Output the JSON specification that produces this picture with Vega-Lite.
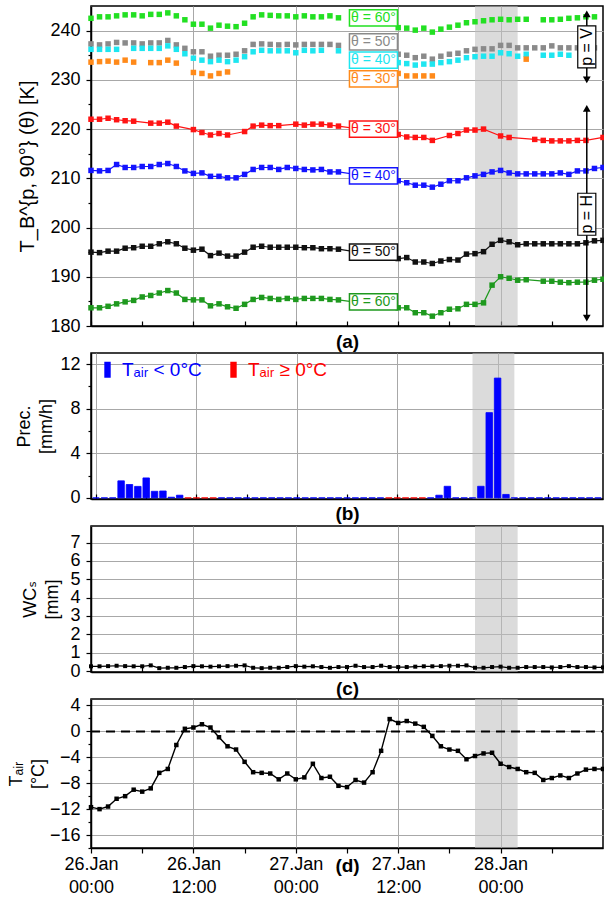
{
  "$schema": "https://vega.github.io/schema/vega-lite/v6.json",
  "background": "white",
  "padding": {"left": 6, "top": 5, "right": 0, "bottom": 0},
  "spacing": 27,
  "bounds": "flush",
  "resolve": {"scale": {"color": "independent", "stroke": "independent", "shape": "independent"}, "legend": {"color": "independent", "stroke": "independent"}},
  "config": {
    "font": "Liberation Sans, Arial, DejaVu Sans, sans-serif",
    "view": {"stroke": "black", "strokeWidth": 1.5},
    "axis": {"labelFontSize": 18, "labelColor": "black", "titleFontSize": 18, "titleColor": "black", "titleFontWeight": "normal", "domainColor": "black", "domainWidth": 1.5, "tickColor": "black", "tickWidth": 1.2, "gridColor": "#a8a8a8", "gridWidth": 1, "labelFlush": false, "labelOverlap": false, "labelPadding": 5, "titleLineHeight": 22}
  },
  "datasets": {
    "tb": [
      {"s":"H30","h":0,"v":222.0},{"s":"H30","h":1,"v":222.0},{"s":"H30","h":2,"v":222.2},{"s":"H30","h":3,"v":221.9},{"s":"H30","h":4,"v":221.7},{"s":"H30","h":5,"v":221.6},{"s":"H30","h":7,"v":221.2},{"s":"H30","h":8,"v":221.2},{"s":"H30","h":9,"v":221.4},{"s":"H30","h":10,"v":220.6},{"s":"H30","h":12,"v":219.9},{"s":"H30","h":13,"v":219.3},{"s":"H30","h":14,"v":218.8},{"s":"H30","h":15,"v":219.1},{"s":"H30","h":16,"v":218.8},{"s":"H30","h":18,"v":219.5},{"s":"H30","h":19,"v":220.6},{"s":"H30","h":20,"v":220.8},{"s":"H30","h":21,"v":220.7},{"s":"H30","h":22,"v":220.7},{"s":"H30","h":24,"v":221.0},{"s":"H30","h":25,"v":220.8},{"s":"H30","h":26,"v":221.0},{"s":"H30","h":27,"v":221.0},{"s":"H30","h":28,"v":220.8},{"s":"H30","h":29,"v":220.6},{"s":"H30","h":36,"v":218.9},{"s":"H30","h":37,"v":218.4},{"s":"H30","h":38,"v":218.3},{"s":"H30","h":39,"v":218.3},{"s":"H30","h":40,"v":217.7},{"s":"H30","h":42,"v":218.7},{"s":"H30","h":43,"v":219.1},{"s":"H30","h":44,"v":219.8},{"s":"H30","h":45,"v":219.8},{"s":"H30","h":46,"v":220.0},{"s":"H30","h":48,"v":218.6},{"s":"H30","h":49,"v":218.3},{"s":"H30","h":52,"v":217.9},{"s":"H30","h":53,"v":217.7},{"s":"H30","h":54,"v":217.6},{"s":"H30","h":55,"v":217.6},{"s":"H30","h":56,"v":217.6},{"s":"H30","h":57,"v":217.7},{"s":"H30","h":58,"v":217.7},{"s":"H30","h":60,"v":218.3},
      {"s":"H40","h":0,"v":211.6},{"s":"H40","h":1,"v":211.5},{"s":"H40","h":2,"v":211.6},{"s":"H40","h":3,"v":212.8},{"s":"H40","h":4,"v":212.2},{"s":"H40","h":5,"v":212.2},{"s":"H40","h":6,"v":212.4},{"s":"H40","h":7,"v":212.4},{"s":"H40","h":8,"v":212.8},{"s":"H40","h":9,"v":213.0},{"s":"H40","h":10,"v":212.4},{"s":"H40","h":11,"v":211.5},{"s":"H40","h":12,"v":211.0},{"s":"H40","h":13,"v":211.1},{"s":"H40","h":14,"v":210.4},{"s":"H40","h":15,"v":210.4},{"s":"H40","h":16,"v":210.1},{"s":"H40","h":17,"v":210.1},{"s":"H40","h":18,"v":210.8},{"s":"H40","h":19,"v":211.8},{"s":"H40","h":20,"v":212.2},{"s":"H40","h":21,"v":212.2},{"s":"H40","h":22,"v":211.8},{"s":"H40","h":23,"v":212.2},{"s":"H40","h":24,"v":212.0},{"s":"H40","h":25,"v":211.8},{"s":"H40","h":26,"v":211.7},{"s":"H40","h":27,"v":211.8},{"s":"H40","h":28,"v":211.3},{"s":"H40","h":29,"v":211.3},{"s":"H40","h":36,"v":209.5},{"s":"H40","h":37,"v":209.1},{"s":"H40","h":38,"v":208.6},{"s":"H40","h":39,"v":208.6},{"s":"H40","h":40,"v":208.2},{"s":"H40","h":41,"v":208.8},{"s":"H40","h":42,"v":209.5},{"s":"H40","h":43,"v":209.5},{"s":"H40","h":44,"v":210.1},{"s":"H40","h":45,"v":210.5},{"s":"H40","h":46,"v":210.8},{"s":"H40","h":47,"v":211.3},{"s":"H40","h":48,"v":211.6},{"s":"H40","h":49,"v":211.1},{"s":"H40","h":50,"v":210.9},{"s":"H40","h":51,"v":210.9},{"s":"H40","h":52,"v":210.9},{"s":"H40","h":53,"v":210.9},{"s":"H40","h":54,"v":210.9},{"s":"H40","h":55,"v":211.1},{"s":"H40","h":56,"v":210.8},{"s":"H40","h":57,"v":211.5},{"s":"H40","h":58,"v":211.5},{"s":"H40","h":59,"v":212.0},{"s":"H40","h":60,"v":212.2},
      {"s":"H50","h":0,"v":195.0},{"s":"H50","h":1,"v":194.9},{"s":"H50","h":2,"v":195.2},{"s":"H50","h":3,"v":195.2},{"s":"H50","h":4,"v":195.8},{"s":"H50","h":5,"v":195.9},{"s":"H50","h":6,"v":196.2},{"s":"H50","h":7,"v":196.2},{"s":"H50","h":8,"v":196.7},{"s":"H50","h":9,"v":197.1},{"s":"H50","h":10,"v":196.7},{"s":"H50","h":11,"v":195.8},{"s":"H50","h":12,"v":195.4},{"s":"H50","h":13,"v":195.6},{"s":"H50","h":14,"v":194.3},{"s":"H50","h":15,"v":194.8},{"s":"H50","h":16,"v":194.2},{"s":"H50","h":17,"v":194.2},{"s":"H50","h":18,"v":195.0},{"s":"H50","h":19,"v":196.0},{"s":"H50","h":20,"v":196.2},{"s":"H50","h":21,"v":196.0},{"s":"H50","h":22,"v":196.0},{"s":"H50","h":23,"v":196.0},{"s":"H50","h":24,"v":196.0},{"s":"H50","h":25,"v":195.9},{"s":"H50","h":26,"v":195.9},{"s":"H50","h":27,"v":195.7},{"s":"H50","h":28,"v":195.7},{"s":"H50","h":29,"v":195.6},{"s":"H50","h":36,"v":193.7},{"s":"H50","h":37,"v":193.9},{"s":"H50","h":38,"v":193.0},{"s":"H50","h":39,"v":193.0},{"s":"H50","h":40,"v":192.7},{"s":"H50","h":41,"v":193.2},{"s":"H50","h":42,"v":193.5},{"s":"H50","h":43,"v":193.4},{"s":"H50","h":44,"v":194.6},{"s":"H50","h":45,"v":194.7},{"s":"H50","h":46,"v":195.1},{"s":"H50","h":47,"v":196.6},{"s":"H50","h":48,"v":197.4},{"s":"H50","h":49,"v":197.1},{"s":"H50","h":50,"v":196.5},{"s":"H50","h":51,"v":196.7},{"s":"H50","h":52,"v":196.7},{"s":"H50","h":53,"v":196.7},{"s":"H50","h":54,"v":196.7},{"s":"H50","h":55,"v":196.7},{"s":"H50","h":56,"v":196.7},{"s":"H50","h":57,"v":196.7},{"s":"H50","h":58,"v":196.9},{"s":"H50","h":59,"v":197.3},{"s":"H50","h":60,"v":197.4},
      {"s":"H60","h":0,"v":183.7},{"s":"H60","h":1,"v":183.7},{"s":"H60","h":2,"v":184.0},{"s":"H60","h":3,"v":184.5},{"s":"H60","h":4,"v":184.9},{"s":"H60","h":5,"v":185.2},{"s":"H60","h":6,"v":185.9},{"s":"H60","h":7,"v":186.2},{"s":"H60","h":8,"v":186.7},{"s":"H60","h":9,"v":187.2},{"s":"H60","h":10,"v":186.7},{"s":"H60","h":11,"v":185.4},{"s":"H60","h":12,"v":185.3},{"s":"H60","h":13,"v":185.3},{"s":"H60","h":14,"v":184.1},{"s":"H60","h":15,"v":184.5},{"s":"H60","h":16,"v":183.9},{"s":"H60","h":17,"v":183.6},{"s":"H60","h":18,"v":184.4},{"s":"H60","h":19,"v":185.4},{"s":"H60","h":20,"v":185.8},{"s":"H60","h":21,"v":185.6},{"s":"H60","h":22,"v":185.4},{"s":"H60","h":23,"v":185.6},{"s":"H60","h":24,"v":185.4},{"s":"H60","h":25,"v":185.6},{"s":"H60","h":26,"v":185.6},{"s":"H60","h":27,"v":185.6},{"s":"H60","h":28,"v":185.4},{"s":"H60","h":29,"v":185.3},{"s":"H60","h":36,"v":183.7},{"s":"H60","h":37,"v":183.7},{"s":"H60","h":38,"v":182.7},{"s":"H60","h":39,"v":182.7},{"s":"H60","h":40,"v":182.0},{"s":"H60","h":41,"v":182.7},{"s":"H60","h":42,"v":183.4},{"s":"H60","h":43,"v":183.5},{"s":"H60","h":44,"v":184.4},{"s":"H60","h":45,"v":184.4},{"s":"H60","h":46,"v":184.7},{"s":"H60","h":47,"v":188.3},{"s":"H60","h":48,"v":190.0},{"s":"H60","h":49,"v":189.7},{"s":"H60","h":50,"v":189.3},{"s":"H60","h":51,"v":189.4},{"s":"H60","h":53,"v":189.1},{"s":"H60","h":54,"v":189.1},{"s":"H60","h":55,"v":188.9},{"s":"H60","h":56,"v":188.8},{"s":"H60","h":57,"v":188.9},{"s":"H60","h":58,"v":188.9},{"s":"H60","h":59,"v":189.3},{"s":"H60","h":60,"v":189.5},
      {"s":"V60","h":0,"v":242.5},{"s":"V60","h":1,"v":242.8},{"s":"V60","h":2,"v":242.8},{"s":"V60","h":3,"v":243.0},{"s":"V60","h":4,"v":243.2},{"s":"V60","h":5,"v":243.2},{"s":"V60","h":6,"v":243.0},{"s":"V60","h":7,"v":243.3},{"s":"V60","h":8,"v":243.3},{"s":"V60","h":9,"v":243.6},{"s":"V60","h":10,"v":243.0},{"s":"V60","h":11,"v":242.2},{"s":"V60","h":12,"v":241.3},{"s":"V60","h":13,"v":241.3},{"s":"V60","h":14,"v":240.5},{"s":"V60","h":15,"v":241.1},{"s":"V60","h":16,"v":240.9},{"s":"V60","h":17,"v":240.8},{"s":"V60","h":18,"v":241.5},{"s":"V60","h":19,"v":242.8},{"s":"V60","h":20,"v":243.2},{"s":"V60","h":21,"v":243.1},{"s":"V60","h":22,"v":243.0},{"s":"V60","h":23,"v":243.0},{"s":"V60","h":24,"v":242.8},{"s":"V60","h":25,"v":243.0},{"s":"V60","h":26,"v":242.8},{"s":"V60","h":27,"v":242.8},{"s":"V60","h":28,"v":243.0},{"s":"V60","h":29,"v":242.6},{"s":"V60","h":36,"v":240.6},{"s":"V60","h":37,"v":240.5},{"s":"V60","h":38,"v":240.1},{"s":"V60","h":39,"v":240.5},{"s":"V60","h":40,"v":239.7},{"s":"V60","h":41,"v":240.3},{"s":"V60","h":42,"v":240.7},{"s":"V60","h":43,"v":241.1},{"s":"V60","h":44,"v":241.6},{"s":"V60","h":45,"v":241.8},{"s":"V60","h":46,"v":242.0},{"s":"V60","h":47,"v":242.2},{"s":"V60","h":48,"v":242.3},{"s":"V60","h":49,"v":242.2},{"s":"V60","h":50,"v":242.3},{"s":"V60","h":51,"v":242.3},{"s":"V60","h":53,"v":242.2},{"s":"V60","h":54,"v":242.2},{"s":"V60","h":55,"v":242.3},{"s":"V60","h":56,"v":242.5},{"s":"V60","h":57,"v":242.6},{"s":"V60","h":58,"v":242.8},{"s":"V60","h":59,"v":242.8},
      {"s":"V50","h":0,"v":237.3},{"s":"V50","h":1,"v":237.1},{"s":"V50","h":2,"v":237.3},{"s":"V50","h":3,"v":237.6},{"s":"V50","h":4,"v":237.5},{"s":"V50","h":5,"v":237.5},{"s":"V50","h":6,"v":237.3},{"s":"V50","h":7,"v":237.5},{"s":"V50","h":8,"v":237.5},{"s":"V50","h":9,"v":238.0},{"s":"V50","h":10,"v":237.1},{"s":"V50","h":11,"v":236.4},{"s":"V50","h":12,"v":235.7},{"s":"V50","h":13,"v":235.7},{"s":"V50","h":14,"v":234.8},{"s":"V50","h":15,"v":235.0},{"s":"V50","h":16,"v":235.0},{"s":"V50","h":17,"v":235.2},{"s":"V50","h":18,"v":235.9},{"s":"V50","h":19,"v":237.2},{"s":"V50","h":20,"v":237.3},{"s":"V50","h":21,"v":237.2},{"s":"V50","h":22,"v":237.1},{"s":"V50","h":23,"v":237.2},{"s":"V50","h":24,"v":237.1},{"s":"V50","h":25,"v":237.2},{"s":"V50","h":26,"v":237.2},{"s":"V50","h":27,"v":237.2},{"s":"V50","h":28,"v":237.2},{"s":"V50","h":29,"v":237.0},{"s":"V50","h":36,"v":235.2},{"s":"V50","h":37,"v":235.0},{"s":"V50","h":38,"v":234.5},{"s":"V50","h":39,"v":234.8},{"s":"V50","h":40,"v":234.2},{"s":"V50","h":41,"v":234.8},{"s":"V50","h":42,"v":235.2},{"s":"V50","h":43,"v":235.4},{"s":"V50","h":44,"v":235.9},{"s":"V50","h":45,"v":236.2},{"s":"V50","h":46,"v":236.3},{"s":"V50","h":47,"v":236.3},{"s":"V50","h":48,"v":237.0},{"s":"V50","h":49,"v":237.0},{"s":"V50","h":50,"v":236.5},{"s":"V50","h":51,"v":236.5},{"s":"V50","h":52,"v":236.5},{"s":"V50","h":53,"v":236.5},{"s":"V50","h":54,"v":236.9},{"s":"V50","h":55,"v":236.5},{"s":"V50","h":56,"v":236.5},{"s":"V50","h":57,"v":236.5},{"s":"V50","h":58,"v":236.5},{"s":"V50","h":59,"v":236.5},
      {"s":"V40","h":0,"v":236.2},{"s":"V40","h":1,"v":236.2},{"s":"V40","h":2,"v":236.2},{"s":"V40","h":3,"v":236.2},{"s":"V40","h":5,"v":236.4},{"s":"V40","h":6,"v":236.4},{"s":"V40","h":7,"v":236.4},{"s":"V40","h":8,"v":236.4},{"s":"V40","h":9,"v":236.9},{"s":"V40","h":10,"v":236.2},{"s":"V40","h":11,"v":235.3},{"s":"V40","h":12,"v":234.4},{"s":"V40","h":13,"v":234.0},{"s":"V40","h":14,"v":233.7},{"s":"V40","h":15,"v":234.0},{"s":"V40","h":16,"v":233.7},{"s":"V40","h":17,"v":234.0},{"s":"V40","h":18,"v":234.7},{"s":"V40","h":19,"v":235.7},{"s":"V40","h":20,"v":236.0},{"s":"V40","h":21,"v":235.9},{"s":"V40","h":22,"v":235.9},{"s":"V40","h":23,"v":235.9},{"s":"V40","h":24,"v":235.5},{"s":"V40","h":25,"v":236.0},{"s":"V40","h":26,"v":235.9},{"s":"V40","h":27,"v":236.0},{"s":"V40","h":29,"v":235.9},{"s":"V40","h":36,"v":233.5},{"s":"V40","h":37,"v":233.3},{"s":"V40","h":38,"v":233.0},{"s":"V40","h":39,"v":233.2},{"s":"V40","h":40,"v":233.2},{"s":"V40","h":41,"v":233.5},{"s":"V40","h":42,"v":233.7},{"s":"V40","h":43,"v":234.0},{"s":"V40","h":44,"v":234.5},{"s":"V40","h":45,"v":234.7},{"s":"V40","h":46,"v":234.8},{"s":"V40","h":47,"v":234.8},{"s":"V40","h":48,"v":235.5},{"s":"V40","h":49,"v":235.3},{"s":"V40","h":50,"v":234.8},{"s":"V40","h":51,"v":235.2},{"s":"V40","h":53,"v":235.0},{"s":"V40","h":54,"v":235.0},{"s":"V40","h":55,"v":235.2},{"s":"V40","h":56,"v":235.0},
      {"s":"V30","h":0,"v":233.6},{"s":"V30","h":1,"v":233.7},{"s":"V30","h":2,"v":233.8},{"s":"V30","h":3,"v":233.6},{"s":"V30","h":4,"v":234.0},{"s":"V30","h":5,"v":233.6},{"s":"V30","h":7,"v":233.5},{"s":"V30","h":8,"v":233.5},{"s":"V30","h":9,"v":234.0},{"s":"V30","h":10,"v":233.4},{"s":"V30","h":12,"v":231.5},{"s":"V30","h":13,"v":231.3},{"s":"V30","h":14,"v":230.8},{"s":"V30","h":15,"v":231.3},{"s":"V30","h":16,"v":231.6},{"s":"V30","h":36,"v":231.3},{"s":"V30","h":37,"v":230.8},{"s":"V30","h":38,"v":230.8},{"s":"V30","h":39,"v":230.8},{"s":"V30","h":40,"v":230.8},{"s":"V30","h":51,"v":234.2}
    ],
    "labels": [
      {"s":"V60","h":33.1,"v":242.6,"t":"θ = 60°"},
      {"s":"V50","h":33.1,"v":237.7,"t":"θ = 50°"},
      {"s":"V40","h":33.1,"v":234.0,"t":"θ = 40°"},
      {"s":"V30","h":33.1,"v":230.2,"t":"θ = 30°"},
      {"s":"H30","h":33.1,"v":220.0,"t":"θ = 30°"},
      {"s":"H40","h":33.1,"v":210.5,"t":"θ = 40°"},
      {"s":"H50","h":33.1,"v":195.0,"t":"θ = 50°"},
      {"s":"H60","h":33.1,"v":184.9,"t":"θ = 60°"}
    ],
    "prec": [
      {"h":0,"v":0,"c":"Tₐᵢᵣ < 0°C"},{"h":1,"v":0,"c":"Tₐᵢᵣ < 0°C"},{"h":2,"v":0,"c":"Tₐᵢᵣ < 0°C"},{"h":3,"v":1.53,"c":"Tₐᵢᵣ < 0°C"},{"h":4,"v":1.2,"c":"Tₐᵢᵣ < 0°C"},{"h":5,"v":1.03,"c":"Tₐᵢᵣ < 0°C"},{"h":6,"v":1.79,"c":"Tₐᵢᵣ < 0°C"},{"h":7,"v":0.59,"c":"Tₐᵢᵣ < 0°C"},{"h":8,"v":0.62,"c":"Tₐᵢᵣ < 0°C"},{"h":9,"v":0.06,"c":"Tₐᵢᵣ < 0°C"},{"h":10,"v":0.24,"c":"Tₐᵢᵣ < 0°C"},
      {"h":11,"v":0,"c":"Tₐᵢᵣ ≥ 0°C"},{"h":12,"v":0,"c":"Tₐᵢᵣ ≥ 0°C"},{"h":13,"v":0,"c":"Tₐᵢᵣ ≥ 0°C"},{"h":14,"v":0,"c":"Tₐᵢᵣ ≥ 0°C"},
      {"h":15,"v":0,"c":"Tₐᵢᵣ < 0°C"},{"h":16,"v":0,"c":"Tₐᵢᵣ < 0°C"},{"h":17,"v":0,"c":"Tₐᵢᵣ < 0°C"},{"h":18,"v":0,"c":"Tₐᵢᵣ < 0°C"},{"h":19,"v":0,"c":"Tₐᵢᵣ < 0°C"},{"h":20,"v":0,"c":"Tₐᵢᵣ < 0°C"},{"h":21,"v":0,"c":"Tₐᵢᵣ < 0°C"},{"h":22,"v":0,"c":"Tₐᵢᵣ < 0°C"},{"h":23,"v":0,"c":"Tₐᵢᵣ < 0°C"},{"h":24,"v":0,"c":"Tₐᵢᵣ < 0°C"},{"h":25,"v":0,"c":"Tₐᵢᵣ < 0°C"},{"h":26,"v":0,"c":"Tₐᵢᵣ < 0°C"},{"h":27,"v":0,"c":"Tₐᵢᵣ < 0°C"},{"h":28,"v":0,"c":"Tₐᵢᵣ < 0°C"},{"h":29,"v":0,"c":"Tₐᵢᵣ < 0°C"},{"h":30,"v":0,"c":"Tₐᵢᵣ < 0°C"},{"h":31,"v":0,"c":"Tₐᵢᵣ < 0°C"},{"h":32,"v":0,"c":"Tₐᵢᵣ < 0°C"},{"h":33,"v":0,"c":"Tₐᵢᵣ < 0°C"},{"h":34,"v":0,"c":"Tₐᵢᵣ < 0°C"},
      {"h":35,"v":0,"c":"Tₐᵢᵣ ≥ 0°C"},{"h":36,"v":0,"c":"Tₐᵢᵣ ≥ 0°C"},{"h":37,"v":0,"c":"Tₐᵢᵣ ≥ 0°C"},{"h":38,"v":0,"c":"Tₐᵢᵣ ≥ 0°C"},{"h":39,"v":0,"c":"Tₐᵢᵣ ≥ 0°C"},
      {"h":40,"v":0,"c":"Tₐᵢᵣ < 0°C"},{"h":41,"v":0.24,"c":"Tₐᵢᵣ < 0°C"},{"h":42,"v":1.04,"c":"Tₐᵢᵣ < 0°C"},{"h":43,"v":0,"c":"Tₐᵢᵣ < 0°C"},{"h":44,"v":0,"c":"Tₐᵢᵣ < 0°C"},{"h":45,"v":0,"c":"Tₐᵢᵣ < 0°C"},{"h":46,"v":1.04,"c":"Tₐᵢᵣ < 0°C"},{"h":47,"v":7.65,"c":"Tₐᵢᵣ < 0°C"},{"h":48,"v":10.75,"c":"Tₐᵢᵣ < 0°C"},{"h":49,"v":0.31,"c":"Tₐᵢᵣ < 0°C"},{"h":50,"v":0,"c":"Tₐᵢᵣ < 0°C"},{"h":51,"v":0,"c":"Tₐᵢᵣ < 0°C"},{"h":52,"v":0,"c":"Tₐᵢᵣ < 0°C"},{"h":53,"v":0,"c":"Tₐᵢᵣ < 0°C"},{"h":54,"v":0,"c":"Tₐᵢᵣ < 0°C"},{"h":55,"v":0,"c":"Tₐᵢᵣ < 0°C"},{"h":56,"v":0,"c":"Tₐᵢᵣ < 0°C"},{"h":57,"v":0,"c":"Tₐᵢᵣ < 0°C"},{"h":58,"v":0,"c":"Tₐᵢᵣ < 0°C"},{"h":59,"v":0,"c":"Tₐᵢᵣ < 0°C"},{"h":60,"v":0,"c":"Tₐᵢᵣ < 0°C"}
    ],
    "wc": [
      {"h":0,"v":0.26},{"h":1,"v":0.26},{"h":2,"v":0.27},{"h":3,"v":0.29},{"h":4,"v":0.27},{"h":5,"v":0.26},{"h":6,"v":0.26},{"h":7,"v":0.31},{"h":8,"v":0.16},{"h":9,"v":0.18},{"h":10,"v":0.18},{"h":11,"v":0.22},{"h":12,"v":0.27},{"h":13,"v":0.26},{"h":14,"v":0.24},{"h":15,"v":0.26},{"h":16,"v":0.27},{"h":17,"v":0.29},{"h":18,"v":0.31},{"h":19,"v":0.18},{"h":20,"v":0.16},{"h":21,"v":0.18},{"h":22,"v":0.18},{"h":23,"v":0.22},{"h":24,"v":0.27},{"h":25,"v":0.24},{"h":26,"v":0.26},{"h":27,"v":0.22},{"h":28,"v":0.18},{"h":29,"v":0.22},{"h":30,"v":0.22},{"h":31,"v":0.29},{"h":32,"v":0.22},{"h":33,"v":0.22},{"h":34,"v":0.29},{"h":35,"v":0.22},{"h":36,"v":0.22},{"h":37,"v":0.22},{"h":38,"v":0.24},{"h":39,"v":0.26},{"h":40,"v":0.26},{"h":41,"v":0.27},{"h":42,"v":0.29},{"h":43,"v":0.29},{"h":44,"v":0.31},{"h":45,"v":0.18},{"h":46,"v":0.18},{"h":47,"v":0.22},{"h":48,"v":0.24},{"h":49,"v":0.18},{"h":50,"v":0.18},{"h":51,"v":0.22},{"h":52,"v":0.22},{"h":53,"v":0.22},{"h":54,"v":0.2},{"h":55,"v":0.22},{"h":56,"v":0.27},{"h":57,"v":0.22},{"h":58,"v":0.22},{"h":59,"v":0.2},{"h":60,"v":0.2}
    ],
    "tair": [
      {"h":0,"v":-11.7},{"h":1,"v":-12.0},{"h":2,"v":-11.6},{"h":3,"v":-10.4},{"h":4,"v":-10.0},{"h":5,"v":-9.0},{"h":6,"v":-9.3},{"h":7,"v":-8.8},{"h":8,"v":-6.4},{"h":9,"v":-5.8},{"h":10,"v":-2.1},{"h":11,"v":0.4},{"h":12,"v":0.6},{"h":13,"v":1.1},{"h":14,"v":0.6},{"h":15,"v":-0.9},{"h":16,"v":-2.3},{"h":17,"v":-2.8},{"h":18,"v":-4.7},{"h":19,"v":-6.3},{"h":20,"v":-6.4},{"h":21,"v":-6.5},{"h":22,"v":-7.4},{"h":23,"v":-6.5},{"h":24,"v":-7.4},{"h":25,"v":-7.1},{"h":26,"v":-5.0},{"h":27,"v":-7.2},{"h":28,"v":-7.0},{"h":29,"v":-8.4},{"h":30,"v":-8.6},{"h":31,"v":-7.5},{"h":32,"v":-7.9},{"h":33,"v":-6.3},{"h":34,"v":-3.0},{"h":35,"v":1.9},{"h":36,"v":1.3},{"h":37,"v":1.6},{"h":38,"v":1.2},{"h":39,"v":0.7},{"h":40,"v":-0.7},{"h":41,"v":-2.3},{"h":42,"v":-2.8},{"h":43,"v":-3.0},{"h":44,"v":-4.3},{"h":45,"v":-3.8},{"h":46,"v":-3.4},{"h":47,"v":-3.3},{"h":48,"v":-5.0},{"h":49,"v":-5.5},{"h":50,"v":-5.8},{"h":51,"v":-6.3},{"h":52,"v":-6.4},{"h":53,"v":-7.5},{"h":54,"v":-7.2},{"h":55,"v":-6.8},{"h":56,"v":-7.2},{"h":57,"v":-6.5},{"h":58,"v":-5.9},{"h":59,"v":-5.8},{"h":60,"v":-5.8}
    ]
  },
  "vconcat": [
    {
      "width": 512, "height": 320,
      "encoding": {
        "x": {"field": "h", "type": "quantitative", "title": "(a)", "scale": {"domain": [0, 60], "nice": false, "zero": false},
          "axis": {"values": [0,6,12,18,24,30,36,42,48,54], "labels": false, "tickSize": -5, "gridOpacity": {"condition": {"test": "datum.value % 12 == 0", "value": 1}, "value": 0}, "titleFontWeight": "bold", "titleFontSize": 19, "titleY": 15, "titleBaseline": "middle"}},
        "y": {"field": "v", "type": "quantitative", "title": "T_B^{p, 90°} (θ) [K]", "scale": {"domain": [180, 245], "nice": false, "zero": false},
          "axis": {"values": [180,185,190,195,200,205,210,215,220,225,230,235,240], "labelExpr": "datum.value % 10 == 0 ? datum.label : ''", "tickSize": {"condition": {"test": "datum.value % 10 == 0", "value": 5}, "value": 3}, "gridOpacity": {"condition": {"test": "datum.value % 10 == 0", "value": 1}, "value": 0}, "labelPadding": 6, "titleFontSize": 20, "titlePadding": 12}}
      },
      "layer": [
        {"data": {"values": [{"h": 45, "h2": 50, "v": 180, "v2": 245}]}, "mark": {"type": "rect", "color": "#bdbdbd", "opacity": 0.55}, "encoding": {"x2": {"field": "h2"}, "y2": {"field": "v2"}}},
        {"data": {"name": "tb"}, "transform": [{"filter": {"field": "s", "oneOf": ["H30","H40","H50","H60"]}}], "mark": {"type": "line", "strokeWidth": 1.2},
          "encoding": {"color": {"field": "s", "type": "nominal", "legend": null, "scale": {"domain": ["V60","V50","V40","V30","H30","H40","H50","H60"], "range": ["#22e022","#8a8a8a","#1ee6f0","#ff8a1a","#ff1414","#1414ff","#111111","#1e991e"]}}}},
        {"data": {"name": "tb"}, "mark": {"type": "square", "size": 30, "filled": true, "opacity": 1},
          "encoding": {"color": {"field": "s", "type": "nominal", "legend": null, "scale": {"domain": ["V60","V50","V40","V30","H30","H40","H50","H60"], "range": ["#22e022","#8a8a8a","#1ee6f0","#ff8a1a","#ff1414","#1414ff","#111111","#1e991e"]}}}},
        {"data": {"name": "labels"}, "mark": {"type": "point", "shape": "M-1,-0.34H1V0.34H-1Z", "size": 2304, "filled": true, "fill": "white", "strokeWidth": 1.5, "opacity": 1},
          "encoding": {"stroke": {"field": "s", "type": "nominal", "legend": null, "scale": {"domain": ["V60","V50","V40","V30","H30","H40","H50","H60"], "range": ["#22e022","#8a8a8a","#1ee6f0","#ff8a1a","#ff1414","#1414ff","#111111","#1e991e"]}}}},
        {"data": {"name": "labels"}, "mark": {"type": "text", "fontSize": 14},
          "encoding": {"text": {"field": "t"}, "color": {"field": "s", "type": "nominal", "legend": null, "scale": {"domain": ["V60","V50","V40","V30","H30","H40","H50","H60"], "range": ["#22e022","#8a8a8a","#1ee6f0","#ff8a1a","#ff1414","#1414ff","#111111","#1e991e"]}}}},
        {"data": {"values": [{"h": 58.1, "v": 243.4, "v2": 230.0}, {"h": 58.1, "v": 224.2, "v2": 181.6}]}, "mark": {"type": "rule", "color": "black", "strokeWidth": 1.5}, "encoding": {"y2": {"field": "v2"}}},
        {"data": {"values": [{"h": 58.1, "v": 243.4, "d": "up"}, {"h": 58.1, "v": 230.0, "d": "down"}, {"h": 58.1, "v": 224.2, "d": "up"}, {"h": 58.1, "v": 181.6, "d": "down"}]},
          "mark": {"type": "point", "filled": true, "color": "black", "size": 60, "opacity": 1},
          "encoding": {"shape": {"field": "d", "type": "nominal", "legend": null, "scale": {"domain": ["up", "down"], "range": ["triangle-up", "triangle-down"]}}}},
        {"data": {"values": [{"h": 58.1, "v": 236.7, "t": "p = V"}, {"h": 58.1, "v": 202.7, "t": "p = H"}]}, "mark": {"type": "point", "shape": "M-0.43,-1H0.43V1H-0.43Z", "size": 1764, "filled": true, "fill": "white", "stroke": "black", "strokeWidth": 1.2, "opacity": 1}},
        {"data": {"values": [{"h": 58.1, "v": 236.7, "t": "p = V"}, {"h": 58.1, "v": 202.7, "t": "p = H"}]}, "mark": {"type": "text", "fontSize": 16, "angle": 270, "color": "black"}, "encoding": {"text": {"field": "t"}}}
      ]
    },
    {
      "width": 512, "height": 146,
      "encoding": {
        "x": {"field": "h", "type": "quantitative", "title": "(b)", "scale": {"domain": [0, 60], "nice": false, "zero": false},
          "axis": {"values": [0,6,12,18,24,30,36,42,48,54], "labels": false, "tickSize": -5, "gridOpacity": {"condition": {"test": "datum.value % 12 == 0", "value": 1}, "value": 0}, "titleFontWeight": "bold", "titleFontSize": 19, "titleY": 14, "titleBaseline": "middle"}},
        "y": {"field": "v", "type": "quantitative", "title": ["Prec.", "[mm/h]"], "scale": {"domain": [-0.1, 13], "nice": false, "zero": false},
          "axis": {"values": [0,2,4,6,8,10,12], "labelExpr": "datum.value % 4 == 0 ? datum.label : ''", "tickSize": {"condition": {"test": "datum.value % 4 == 0", "value": 5}, "value": 3}, "gridOpacity": {"condition": {"test": "datum.value % 4 == 0 && datum.value > 0", "value": 1}, "value": 0}, "labelPadding": 6, "titlePadding": 4}}
      },
      "layer": [
        {"data": {"values": [{"h": 45, "h2": 50, "v": -0.1, "v2": 13}]}, "mark": {"type": "rect", "color": "#bdbdbd", "opacity": 0.55}, "encoding": {"x2": {"field": "h2"}, "y2": {"field": "v2"}}},
        {"data": {"name": "prec"}, "mark": {"type": "bar", "width": 6.5, "strokeWidth": 0.8, "opacity": 1},
          "encoding": {
            "color": {"field": "c", "type": "nominal", "scale": {"domain": ["Tₐᵢᵣ < 0°C", "Tₐᵢᵣ ≥ 0°C"], "range": ["#0000ff", "#ff0000"]},
              "legend": {"orient": "top-left", "direction": "horizontal", "title": null, "offset": 7, "padding": 0, "symbolType": "M-0.4,-1H0.4V1H-0.4Z", "symbolSize": 256, "symbolStrokeWidth": 0, "labelFontSize": 19, "labelLimit": 0, "columnPadding": 22, "labelOffset": 5,
                "labelColor": {"expr": "indexof(datum.label, '<') >= 0 ? '#0000ff' : '#ff0000'"}}},
            "stroke": {"field": "c", "type": "nominal", "scale": {"domain": ["Tₐᵢᵣ < 0°C", "Tₐᵢᵣ ≥ 0°C"], "range": ["#0000ff", "#ff0000"]}, "legend": null}
          }}
      ]
    },
    {
      "width": 512, "height": 146,
      "encoding": {
        "x": {"field": "h", "type": "quantitative", "title": "(c)", "scale": {"domain": [0, 60], "nice": false, "zero": false},
          "axis": {"values": [0,6,12,18,24,30,36,42,48,54], "labels": false, "tickSize": -5, "gridOpacity": {"condition": {"test": "datum.value % 12 == 0", "value": 1}, "value": 0}, "titleFontWeight": "bold", "titleFontSize": 19, "titleY": 16, "titleBaseline": "middle"}},
        "y": {"field": "v", "type": "quantitative", "title": ["WCₛ", "[mm]"], "scale": {"domain": [-0.05, 7.9], "nice": false, "zero": false},
          "axis": {"values": [0,1,2,3,4,5,6,7], "tickSize": 5, "gridOpacity": {"condition": {"test": "datum.value > 0", "value": 1}, "value": 0}, "labelPadding": 6, "titlePadding": 8}}
      },
      "layer": [
        {"data": {"values": [{"h": 45, "h2": 50, "v": -0.05, "v2": 7.9}]}, "mark": {"type": "rect", "color": "#bdbdbd", "opacity": 0.55}, "encoding": {"x2": {"field": "h2"}, "y2": {"field": "v2"}}},
        {"data": {"name": "wc"}, "mark": {"type": "line", "color": "black", "strokeWidth": 1.2}},
        {"data": {"name": "wc"}, "mark": {"type": "square", "color": "black", "size": 16, "filled": true, "opacity": 1}}
      ]
    },
    {
      "width": 512, "height": 149,
      "encoding": {
        "x": {"field": "h", "type": "quantitative", "title": "(d)", "scale": {"domain": [0, 60], "nice": false, "zero": false},
          "axis": {"values": [0,6,12,18,24,30,36,42,48,54], "tickSize": 5, "labelPadding": 2, "labelLineHeight": 23,
            "labelExpr": "datum.value % 12 == 0 ? [(26 + floor(datum.value / 24)) + '.Jan', (datum.value % 24 == 0 ? '00:00' : '12:00')] : ''",
            "gridOpacity": {"condition": {"test": "datum.value % 12 == 0", "value": 1}, "value": 0}, "titleFontWeight": "bold", "titleFontSize": 19, "titleY": 17, "titleBaseline": "middle"}},
        "y": {"field": "v", "type": "quantitative", "title": ["Tₐᵢᵣ", "[°C]"], "scale": {"domain": [-18, 5], "nice": false, "zero": false},
          "axis": {"values": [-18,-16,-14,-12,-10,-8,-6,-4,-2,0,2,4], "labelExpr": "datum.value % 4 == 0 ? datum.label : ''", "tickSize": {"condition": {"test": "datum.value % 4 == 0", "value": 5}, "value": 3}, "gridOpacity": {"condition": {"test": "datum.value % 4 == 0", "value": 1}, "value": 0}, "labelPadding": 6, "titlePadding": 2}}
      },
      "layer": [
        {"data": {"values": [{"h": 45, "h2": 50, "v": -18, "v2": 5}]}, "mark": {"type": "rect", "color": "#bdbdbd", "opacity": 0.55}, "encoding": {"x2": {"field": "h2"}, "y2": {"field": "v2"}}},
        {"data": {"values": [{"h": 0, "h2": 60, "v": 0}]}, "mark": {"type": "rule", "color": "black", "strokeWidth": 2, "strokeDash": [9, 6]}, "encoding": {"x2": {"field": "h2"}}},
        {"data": {"name": "tair"}, "mark": {"type": "line", "color": "black", "strokeWidth": 1.4}},
        {"data": {"name": "tair"}, "mark": {"type": "square", "color": "black", "size": 20, "filled": true, "opacity": 1}}
      ]
    }
  ]
}
